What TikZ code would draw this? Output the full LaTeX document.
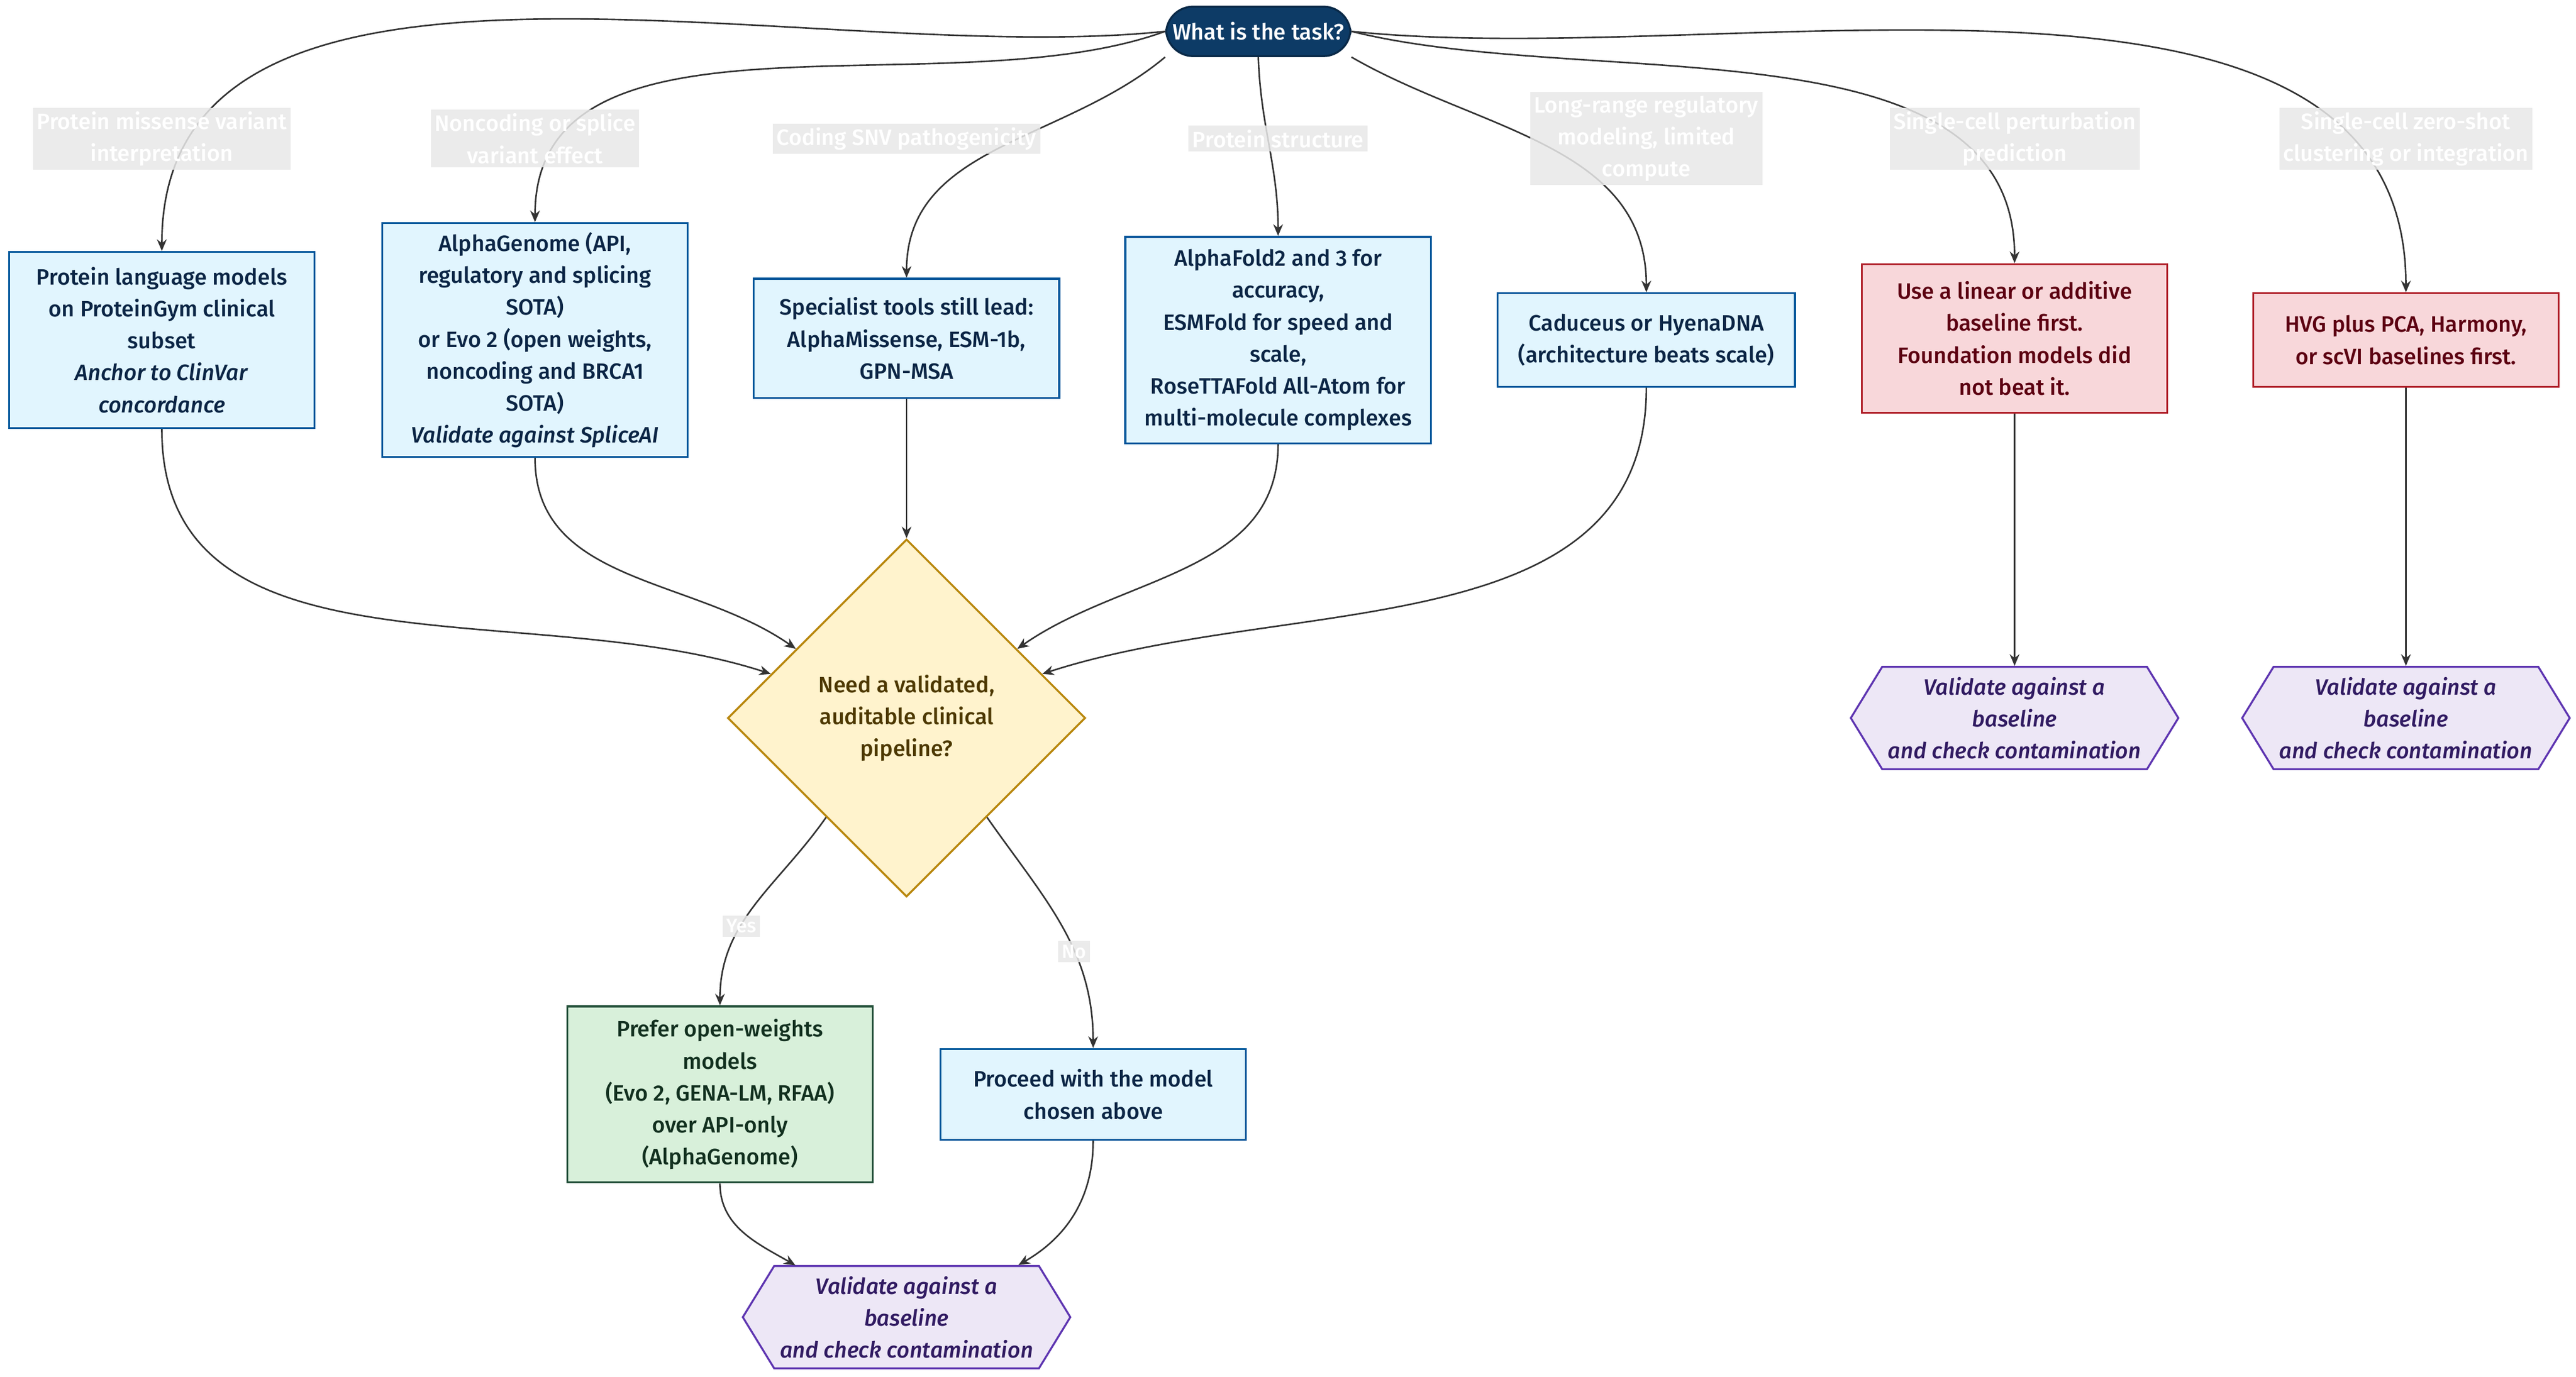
\documentclass[tikz,border=0pt]{standalone}
\usepackage{fontspec}
\setmainfont{Fira Sans}[BoldFont={Fira Sans Medium},BoldItalicFont={Fira Sans Medium Italic}]
\usetikzlibrary{shapes.geometric, shapes.symbols, arrows.meta}

\definecolor{navy}{HTML}{0D3B66}
\definecolor{bluefill}{HTML}{E1F5FE}
\definecolor{blueline}{HTML}{01579B}
\definecolor{bluetext}{HTML}{0B2545}
\definecolor{redfill}{HTML}{F8D7DA}
\definecolor{redline}{HTML}{B0202A}
\definecolor{redtext}{HTML}{5C0011}
\definecolor{greenfill}{HTML}{D8F0DA}
\definecolor{greenline}{HTML}{1F4D36}
\definecolor{greentext}{HTML}{12301F}
\definecolor{purplefill}{HTML}{EDE7F6}
\definecolor{purpleline}{HTML}{5E35B1}
\definecolor{purpletext}{HTML}{311B62}
\definecolor{yellowfill}{HTML}{FFF3CD}
\definecolor{yellowline}{HTML}{B8860B}
\definecolor{yellowtext}{HTML}{4D3800}
\definecolor{labelfill}{HTML}{E8E8E8}

\tikzset{
    txt/.style={font=\fontsize{11.5}{16.5}\selectfont\bfseries, align=center},
    task/.style={txt, rectangle, rounded corners=14, draw=navy!70!black, line width=1pt, fill=navy, text=white, minimum width=3.3cm, minimum height=0.9cm},
    blue/.style={txt, rectangle, draw=blueline, line width=1pt, fill=bluefill, text=bluetext, minimum width=5.55cm},
    red/.style={txt, rectangle, draw=redline, line width=1pt, fill=redfill, text=redtext, minimum width=5.55cm},
    green/.style={txt, rectangle, draw=greenline, line width=1pt, fill=greenfill, text=greentext, minimum width=5.55cm},
    check/.style={txt, shape=signal, signal to=west and east, signal pointer angle=117, draw=purpleline, line width=1pt, fill=purplefill, text=purpletext, font=\fontsize{11.5}{16.5}\selectfont\bfseries\itshape, minimum width=5.95cm, minimum height=1.86cm, inner sep=1pt},
    decide/.style={txt, diamond, aspect=1, draw=yellowline, line width=1pt, fill=yellowfill, text=yellowtext, minimum size=6.5cm, inner sep=0pt},
    tag/.style={txt, fill=labelfill, fill opacity=0.85, text opacity=1, text=white, inner sep=2pt},
    edge/.style={draw=black!80, line width=0.8pt, -{Stealth[length=6pt,width=5pt]}},
}

\begin{document}
\begin{tikzpicture}[x=0.03cm, y=-0.03cm]
    \useasboundingbox (0,0) rectangle (1560,834);

    \node[task] (task) at (762,19) {What is the task?};

    \node[blue, minimum height=3.2cm] (plm) at (98,206) {Protein language models\\ on ProteinGym clinical\\ subset\\ \textit{Anchor to ClinVar}\\ \textit{concordance}};
    \node[blue, minimum height=4.25cm] (genome) at (324,206) {AlphaGenome (API,\\ regulatory and splicing\\ SOTA)\\ or Evo 2 (open weights,\\ noncoding and BRCA1\\ SOTA)\\ \textit{Validate against SpliceAI}};
    \node[blue, minimum height=2.17cm] (snv) at (549,205) {Specialist tools still lead:\\ AlphaMissense, ESM-1b,\\ GPN-MSA};
    \node[blue, minimum height=3.75cm] (fold) at (774,206) {AlphaFold2 and 3 for\\ accuracy,\\ ESMFold for speed and\\ scale,\\ RoseTTAFold All-Atom for\\ multi-molecule complexes};
    \node[blue, minimum width=5.4cm, minimum height=1.7cm] (hyena) at (997,206) {Caduceus or HyenaDNA\\ (architecture beats scale)};
    \node[red, minimum height=2.7cm] (linear) at (1220,205) {Use a linear or additive\\ baseline first.\\ Foundation models did\\ not beat it.};
    \node[red, minimum height=1.7cm] (hvg) at (1457,206) {HVG plus PCA, Harmony,\\ or scVI baselines first.};

    \node[decide] (pipe) at (549,435) {Need a validated,\\ auditable clinical\\ pipeline?};

    \node[green, minimum height=3.2cm] (open) at (436,663) {Prefer open-weights\\ models\\ (Evo 2, GENA-LM, RFAA)\\ over API-only\\ (AlphaGenome)};
    \node[blue, minimum height=1.65cm] (proceed) at (662,663) {Proceed with the model\\ chosen above};

    \node[check] (chk1) at (1220,435) {Validate against a\\ baseline\\ and check contamination};
    \node[check] (chk2) at (1457,435) {Validate against a\\ baseline\\ and check contamination};
    \node[check] (chk3) at (549,798) {Validate against a\\ baseline\\ and check contamination};

    % task branches
    \draw[edge] (task.west) to[out=186, in=90, looseness=0.9] (plm.north);
    \draw[edge] (task.west) to[out=200, in=90, looseness=0.9] (genome.north);
    \draw[edge] (task.south west) to[out=220, in=90] (snv.north);
    \draw[edge] (task.south) to[out=-88, in=90] (fold.north);
    \draw[edge] (task.south east) to[out=-30, in=90] (hyena.north);
    \draw[edge] (task.east) to[out=-14, in=90, looseness=0.9] (linear.north);
    \draw[edge] (task.east) to[out=-6, in=90, looseness=0.9] (hvg.north);

    % into the decision
    \draw[edge] (plm.south) to[out=-90, in=162] (pipe.162);
    \draw[edge] (genome.south) to[out=-90, in=145] (pipe.148);
    \draw[edge] (snv.south) -- (pipe.north);
    \draw[edge] (fold.south) to[out=-90, in=35] (pipe.32);
    \draw[edge] (hyena.south) to[out=-90, in=18] (pipe.18);
    \draw[edge] (linear.south) -- (chk1.north);
    \draw[edge] (hvg.south) -- (chk2.north);

    % decision outcomes
    \draw[edge] (pipe.231) to[out=-125, in=90] node[pos=0.62, tag, font=\fontsize{10}{12}\selectfont\bfseries] (yes) {Yes} (open.north);
    \draw[edge] (pipe.309) to[out=-55, in=90] node[pos=0.62, tag, font=\fontsize{10}{12}\selectfont\bfseries] (no) {No} (proceed.north);
    \draw[edge] (open.south) to[out=-90, in=150] (chk3.155);
    \draw[edge] (proceed.south) to[out=-90, in=30] (chk3.25);

    % branch labels
    \node[tag] (lmis) at (98,84) {Protein missense variant\\ interpretation};
    \node[tag] (lnc) at (324,84) {Noncoding or splice\\ variant effect};
    \node[tag] (lsnv) at (549,84) {Coding SNV pathogenicity};
    \node[tag] (lstr) at (774,84) {Protein structure};
    \node[tag] (lreg) at (997,84) {Long-range regulatory\\ modeling, limited\\ compute};
    \node[tag] (lpert) at (1220,84) {Single-cell perturbation\\ prediction};
    \node[tag] (lzero) at (1457,84) {Single-cell zero-shot\\ clustering or integration};
\end{tikzpicture}
\end{document}
